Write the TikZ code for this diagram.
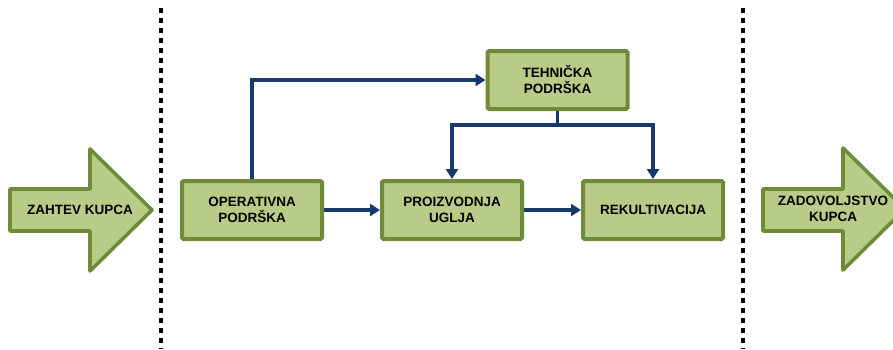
\documentclass[tikz,border=0pt]{standalone}
\usepackage{fontspec}
\setmainfont{Liberation Sans}
\usetikzlibrary{arrows.meta,calc}

\definecolor{boxfill}{HTML}{B8CC87}
\definecolor{boxline}{HTML}{6F8A38}
\definecolor{navy}{HTML}{17396B}

\tikzset{
  procbox/.style={draw=boxline, fill=boxfill, line width=4pt, rounded corners=1.5pt,
    minimum width=140pt, minimum height=58pt, align=center,
    font=\fontsize{13.5}{16}\selectfont\bfseries},
  flow/.style={draw=navy, line width=3.2pt, -{Triangle[length=10pt,width=12pt]}},
  bigarrow/.style={draw=boxline, fill=boxfill, line width=3.6pt, line join=round},
  divider/.style={draw=black, line width=3.4pt, dash pattern=on 5pt off 5pt}
}

\begin{document}
\begin{tikzpicture}[x=1pt, y=-1pt]
  \useasboundingbox (0,0) rectangle (893,349);

  % 虚线分隔
  \coordinate (L1) at (161, 8);
  \coordinate (L2) at (161, 349);
  \coordinate (R1) at (743, 8);
  \coordinate (R2) at (743, 349);
  \draw[divider] (L1) -- (L2);
  \draw[divider] (R1) -- (R2);

  % 左右大箭头
  \path[bigarrow] (10,189) -- (90,189) -- (90,149) -- (152,210)
    -- (90,271) -- (90,231) -- (10,231) -- cycle;
  \node[align=center, font=\fontsize{13.5}{16}\selectfont\bfseries] (zahtev) at (80,210) {ZAHTEV KUPCA};

  \path[bigarrow] (763,189) -- (843,189) -- (843,148) -- (905,209)
    -- (843,270) -- (843,231) -- (763,231) -- cycle;
  \node[align=center, font=\fontsize{13.5}{16}\selectfont\bfseries] (zadovoljstvo) at (833,209) {ZADOVOLJSTVO\\KUPCA};

  % 方框
  \node[procbox] (op)  at (252, 210)   {OPERATIVNA\\PODRŠKA};
  \node[procbox] (pro) at (452, 210)   {PROIZVODNJA\\UGLJA};
  \node[procbox] (rek) at (653, 210)   {REKULTIVACIJA};
  \node[procbox] (teh) at (557.5, 80)  {TEHNIČKA\\PODRŠKA};

  % 连线
  \draw[flow] (op.north) |- (teh.west);
  \draw[flow] (op.east) -- (pro.west);
  \draw[flow] (pro.east) -- (rek.west);
  \coordinate (fork) at ($(teh.south)+(0,14)$);
  \draw[navy, line width=3.2pt] (teh.south) -- (fork);
  \draw[flow] (fork) -| (pro.north);
  \draw[flow] (fork) -| (rek.north);

\end{tikzpicture}
\end{document}
